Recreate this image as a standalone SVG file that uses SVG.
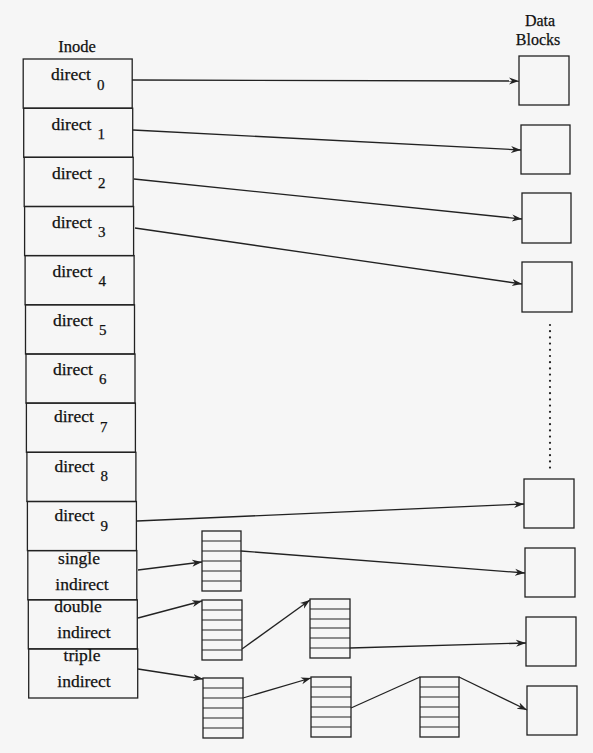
<svg xmlns="http://www.w3.org/2000/svg" width="593" height="753" viewBox="0 0 593 753">
<defs>
<marker id="ah" markerUnits="userSpaceOnUse" markerWidth="12" markerHeight="10" refX="10" refY="4" orient="auto">
<path d="M0,0.5 L10,4 L0,7.5 L3,4 Z" fill="#222"/>
</marker>
</defs>
<style>
.box{fill:none;stroke:#222;stroke-width:1.3}
.lbl{font-family:"Liberation Serif","Times New Roman",serif;font-size:17.5px;fill:#111;stroke:#111;stroke-width:0.25}
.sub{font-family:"Liberation Serif","Times New Roman",serif;font-size:15px;fill:#111;stroke:#111;stroke-width:0.25}
.hd{font-family:"Liberation Serif","Times New Roman",serif;font-size:16.5px;fill:#111;stroke:#111;stroke-width:0.25;text-anchor:middle}
.hd2{font-family:"Liberation Serif","Times New Roman",serif;font-size:16px;fill:#111;stroke:#111;stroke-width:0.25;text-anchor:middle}
.mid{text-anchor:middle}
.cn{fill:none;stroke:#222;stroke-width:1.3}
.arr{marker-end:url(#ah)}
.rows{fill:none;stroke:#222;stroke-width:1.2}
</style>
<rect x="0" y="0" width="593" height="753" fill="#f6f6f6"/>

<text class="hd" x="77" y="52">Inode</text>
<text class="hd2" x="540" y="26">Data</text>
<text class="hd2" x="538" y="45">Blocks</text>

<g id="inode">
<g id="slot-direct0"><rect class="box" x="23.2" y="59" width="109" height="49.2"/><text class="lbl" x="51" y="80">direct</text><text class="sub" x="97" y="90">0</text></g>
<g id="slot-direct1"><rect class="box" x="23.7" y="108.2" width="109" height="49.1"/><text class="lbl" x="51.5" y="130">direct</text><text class="sub" x="97.5" y="139">1</text></g>
<g id="slot-direct2"><rect class="box" x="24.2" y="157.3" width="109" height="49.2"/><text class="lbl" x="52" y="179">direct</text><text class="sub" x="98" y="188">2</text></g>
<g id="slot-direct3"><rect class="box" x="24.6" y="206.5" width="109" height="49.1"/><text class="lbl" x="52" y="228">direct</text><text class="sub" x="98" y="237">3</text></g>
<g id="slot-direct4"><rect class="box" x="25.1" y="255.6" width="109" height="49.2"/><text class="lbl" x="52.5" y="277">direct</text><text class="sub" x="98.5" y="286">4</text></g>
<g id="slot-direct5"><rect class="box" x="25.5" y="304.8" width="109" height="49.2"/><text class="lbl" x="53" y="326">direct</text><text class="sub" x="99" y="335">5</text></g>
<g id="slot-direct6"><rect class="box" x="26" y="354" width="109" height="49.1"/><text class="lbl" x="53" y="375">direct</text><text class="sub" x="99" y="384">6</text></g>
<g id="slot-direct7"><rect class="box" x="26.4" y="403.1" width="109" height="49.2"/><text class="lbl" x="54" y="422">direct</text><text class="sub" x="100" y="432">7</text></g>
<g id="slot-direct8"><rect class="box" x="26.9" y="452.3" width="109" height="49.2"/><text class="lbl" x="54.5" y="472">direct</text><text class="sub" x="100.5" y="481">8</text></g>
<g id="slot-direct9"><rect class="box" x="27.4" y="501.5" width="109" height="49.1"/><text class="lbl" x="54.5" y="521">direct</text><text class="sub" x="100.5" y="531">9</text></g>
<g id="slot-single"><rect class="box" x="27.8" y="550.6" width="109" height="49.2"/><text class="lbl mid" x="79" y="564">single</text><text class="lbl mid" x="82" y="590">indirect</text></g>
<g id="slot-double"><rect class="box" x="28.3" y="599.8" width="109" height="49.1"/><text class="lbl mid" x="78" y="612">double</text><text class="lbl mid" x="84" y="638">indirect</text></g>
<g id="slot-triple"><rect class="box" x="28.7" y="648.9" width="109" height="49.1"/><text class="lbl mid" x="82" y="661">triple</text><text class="lbl mid" x="84" y="687">indirect</text></g>
</g>

<g id="data-blocks">
<g id="db1"><rect class="box" x="519" y="56" width="50" height="49"/></g>
<g id="db2"><rect class="box" x="521" y="125" width="49" height="49"/></g>
<g id="db3"><rect class="box" x="522" y="193" width="49" height="50"/></g>
<g id="db4"><rect class="box" x="522" y="262" width="50" height="50"/></g>
<g id="db5"><rect class="box" x="524" y="479" width="50" height="49"/></g>
<g id="db6"><rect class="box" x="525" y="548" width="50" height="49"/></g>
<g id="db7"><rect class="box" x="526" y="617" width="50" height="49"/></g>
<g id="db8"><rect class="box" x="527" y="686" width="50" height="49"/></g>
</g>

<g id="pointer-blocks">
<g id="pb1"><rect class="box" x="202" y="531" width="39" height="60"/><path class="rows" d="M202,541H241M202,551H241M202,561H241M202,571H241M202,581H241"/></g>
<g id="pb2"><rect class="box" x="202" y="600" width="40" height="60"/><path class="rows" d="M202,610H242M202,620H242M202,630H242M202,640H242M202,650H242"/></g>
<g id="pb3"><rect class="box" x="203" y="678" width="40" height="60"/><path class="rows" d="M203,688H243M203,698H243M203,708H243M203,718H243M203,728H243"/></g>
<g id="pb4"><rect class="box" x="310" y="599" width="40" height="59"/><path class="rows" d="M310,609H350M310,619H350M310,628H350M310,638H350M310,648H350"/></g>
<g id="pb5"><rect class="box" x="311" y="677" width="40" height="60"/><path class="rows" d="M311,687H351M311,697H351M311,707H351M311,717H351M311,727H351"/></g>
<g id="pb6"><rect class="box" x="420" y="677" width="39" height="60"/><path class="rows" d="M420,687H459M420,697H459M420,707H459M420,717H459M420,727H459"/></g>
</g>

<g id="connectors">
<line class="cn arr" x1="132" y1="80" x2="519" y2="81"/>
<line class="cn arr" x1="133" y1="130" x2="521" y2="150"/>
<line class="cn arr" x1="134" y1="179" x2="522" y2="219"/>
<line class="cn arr" x1="135" y1="228" x2="522" y2="284"/>
<line class="cn arr" x1="137" y1="521" x2="524" y2="504"/>
<line class="cn arr" x1="138" y1="570" x2="202" y2="562"/>
<line class="cn arr" x1="241" y1="551" x2="525" y2="573"/>
<line class="cn arr" x1="138" y1="618" x2="202" y2="601"/>
<line class="cn arr" x1="242" y1="649" x2="310" y2="600"/>
<line class="cn arr" x1="350" y1="648" x2="526" y2="643"/>
<line class="cn arr" x1="138" y1="669" x2="203" y2="679"/>
<line class="cn arr" x1="243" y1="698" x2="311" y2="678"/>
<line class="cn" x1="351" y1="708" x2="420" y2="677"/>
<line class="cn arr" x1="459" y1="677" x2="527" y2="710"/>
<line x1="550" y1="325" x2="550" y2="468" stroke="#222" stroke-width="2.2" stroke-linecap="round" stroke-dasharray="0 6.2"/>
</g>
</svg>
